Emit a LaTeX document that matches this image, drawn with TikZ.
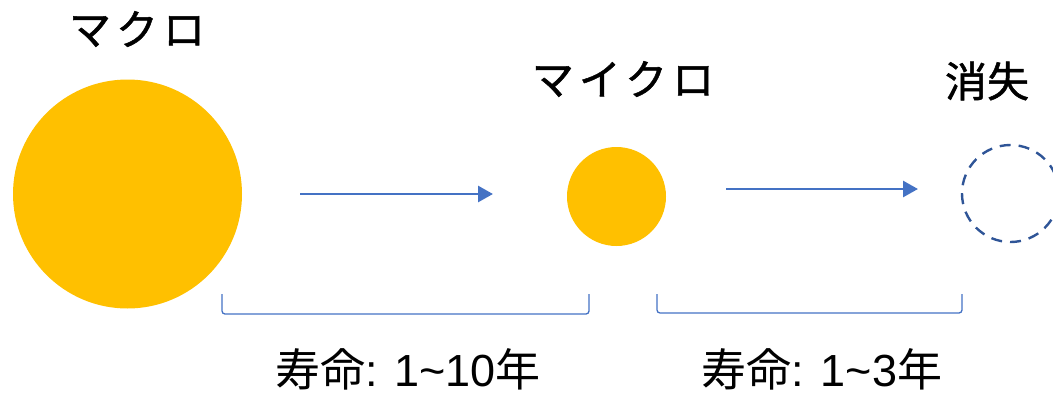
\documentclass[tikz,border=0pt]{standalone}
\usepackage{fontspec}
\setmainfont{Liberation Sans}
\newfontfamily\cjk{Noto Sans CJK JP}
\newfontfamily\cjkbold[FakeBold=1.2]{Noto Sans CJK JP}
\newfontfamily\cjkwide[LetterSpace=12,FakeBold=1.2]{Noto Sans CJK JP}
\usetikzlibrary{arrows.meta}
\definecolor{gold}{HTML}{FFC000}
\definecolor{arrowblue}{HTML}{4472C4}
\definecolor{darkblue}{HTML}{2F5597}
\tikzset{
  title/.style={inner sep=0pt, font=\fontsize{42}{46}\selectfont},
  life/.style={inner sep=0pt, font=\fontsize{45}{49}\selectfont},
  ball/.style={circle, fill=gold, inner sep=0pt},
  flow/.style={draw=arrowblue, line width=2.8pt, -{Triangle[length=15pt,width=16pt]}},
  brace/.style={draw=arrowblue, line width=1.3pt, rounded corners=3pt},
  gone/.style={circle, draw=darkblue, line width=2.4pt, dash pattern=on 11pt off 8pt, inner sep=0pt}
}
\begin{document}
\begin{tikzpicture}[x=1pt,y=-1pt]
\useasboundingbox (0,0) rectangle (1053,394);
% circles
\node[ball, minimum size=229pt] (macro) at (127.5,194) {};
\node[ball, minimum size=99pt] (micro) at (616.5,196.5) {};
\node[gone, minimum size=97pt] (vanish) at (1010.5,193.5) {};
% titles
\node[title] (tmacro) at (137,29) {\cjkwide マクロ};
\node[title] (tmicro) at (623,79) {\cjkwide マイクロ};
\node[title] (tvanish) at (987,81) {\cjkbold 消失};
% arrows
\coordinate (a1s) at (300,194);
\coordinate (a1e) at (493,194);
\coordinate (a2s) at (726,189);
\coordinate (a2e) at (918,189);
\draw[flow] (a1s) -- (a1e);
\draw[flow] (a2s) -- (a2e);
% brackets
\coordinate (b1l) at (222,294);
\coordinate (b1r) at (589,294);
\coordinate (b2l) at (657,294);
\coordinate (b2r) at (962,294);
\draw[brace] (b1l) -- ++(0,20) -| (b1r);
\draw[brace] (b2l) -- ++(0,19) -| (b2r);
% lifetimes
\node[life] (l1) at (408,369) {{\cjk 寿命}: 1\textasciitilde 10{\cjk 年}};
\node[life] (l2) at (822,369) {{\cjk 寿命}: 1\textasciitilde 3{\cjk 年}};
\end{tikzpicture}
\end{document}
